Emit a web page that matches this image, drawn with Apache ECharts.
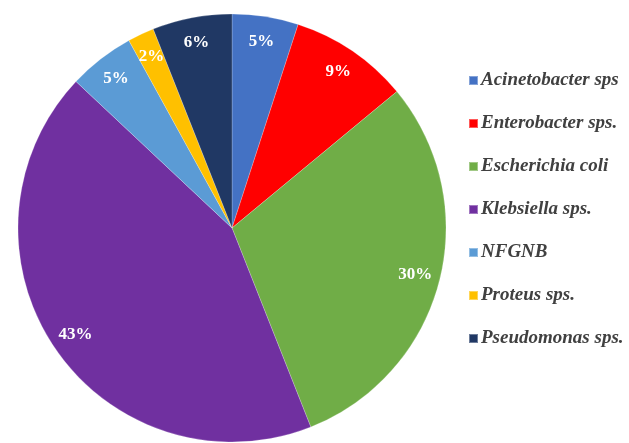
<!DOCTYPE html>
<html><head><meta charset="utf-8">
<script src="https://cdn.jsdelivr.net/npm/echarts@6/dist/echarts.min.js"></script>
<style>html,body{margin:0;padding:0;background:#fff}#c{width:629px;height:443px}</style>
</head><body><div id="c"></div>
<script>
const categories = ['Acinetobacter sps','Enterobacter sps.','Escherichia coli','Klebsiella sps.','NFGNB','Proteus sps.','Pseudomonas sps.'];
const values = [5, 9, 30, 43, 5, 2, 6];
const colors = ['#4472C4','#FF0000','#70AD47','#7030A0','#5B9BD5','#FFC000','#203864'];

const chart = echarts.init(document.getElementById('c'));
const R = 214;
const visData = categories.map((n,i)=>({name:n, value:values[i], itemStyle:{color:colors[i]}}));
const labData = categories.map((n,i)=>({name:n, value:values[i]}));
chart.setOption({
  animation:false,
  legend:{
    orient:'vertical', left:463, top:65, itemWidth:9, itemHeight:9, itemGap:22,
    icon:'rect',
    data: categories.map((n,i)=>({name:n, itemStyle:{color:colors[i]}})),
    textStyle:{fontFamily:'Liberation Serif', fontStyle:'italic', fontWeight:'bold', fontSize:19, color:'#404040', lineHeight:21, padding:[0,0,0,-2]}
  },
  series:[
    {type:'pie', center:[232,228], radius:[0,R], startAngle:90, label:{show:false}, labelLine:{show:false}, silent:true,
     itemStyle:{borderWidth:0.6, borderColor:'rgba(255,255,255,0.35)'}, data:visData, emphasis:{disabled:true}},
    {type:'pie', center:[232,228], radius:[R*0.74,R], startAngle:90, silent:true,
     itemStyle:{color:'rgba(0,0,0,0)'}, emphasis:{disabled:true},
     label:{show:true, position:'inside', formatter:p=>p.value+'%', color:'#fff', fontFamily:'Liberation Serif', fontWeight:'bold', fontSize:17},
     labelLine:{show:false}, data:labData}
  ]
});
</script></body></html>
